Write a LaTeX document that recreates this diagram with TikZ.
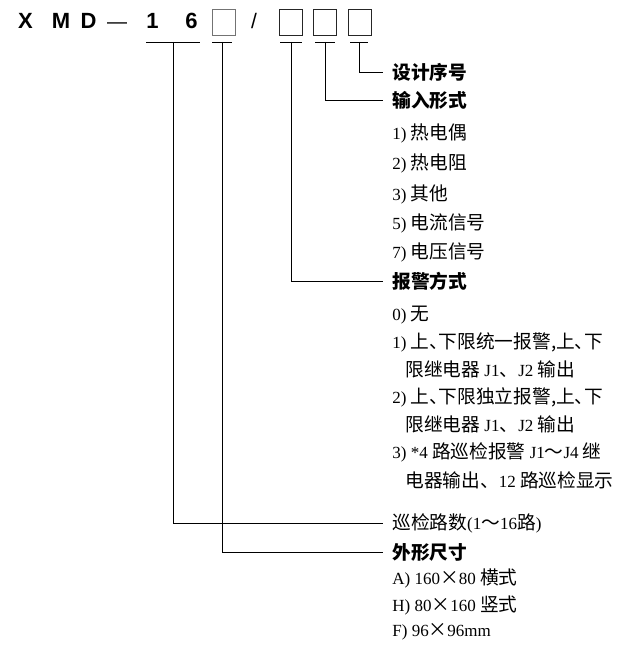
\documentclass[tikz,border=0pt]{standalone}
\usepackage{fontspec}
\setmainfont{Liberation Serif}
\newfontfamily\cjk[RawFeature=+halt,Scale=1.1]{Noto Sans CJK SC}
\newfontfamily\cjkfull[Scale=1.1]{Noto Sans CJK SC}
\newfontfamily\hdr{Liberation Sans}
\newcommand\zh[1]{{\cjk #1}}
\newcommand\zhdun{{\cjkfull 、}}
\usetikzlibrary{positioning}

\begin{document}
\begin{tikzpicture}[
x=1pt, y=-1pt,
line width=0.8pt,
code/.style={
	anchor=base,
	font=\hdr\bfseries\fontsize{22}{24}\selectfont,
	inner sep=0pt
},
slot/.style={
	draw=black!85,
	line width=0.7pt,
	minimum width=23pt,
	minimum height=26pt,
	inner sep=0pt
},
head/.style={
	anchor=west,
	inner xsep=9pt,
	inner ysep=0pt,
	font=\cjk\bfseries\fontsize{17}{20}\selectfont
},
plain/.style={
	anchor=west,
	inner xsep=9pt,
	inner ysep=0pt,
	font=\fontsize{17}{20}\selectfont
},
item/.style={
	anchor=west,
	inner sep=0pt,
	font=\fontsize{17}{20}\selectfont
}
]
\useasboundingbox (0,0) rectangle (623,658);

% Model code
\node [code] (cX) at (25.5,29) {X};
\node [code] (cM) at (61,29) {M};
\node [code] (cD) at (88.5,29) {D};
\node [code, font=\hdr\fontsize{20}{24}\selectfont] (dash) at (117,29) {—};
\node [code] (one) at (152.5,29) {1};
\node [code] (six) at (191.5,29) {6};
\node [slot, draw=black!55] (b1) at (223.5,22) {};
\node [code, font=\hdr\fontsize{21}{24}\selectfont] (slash) at (254,29) {/};
\node [slot] (b2) at (290.5,22) {};
\node [slot] (b3) at (324.5,22) {};
\node [slot] (b4) at (359.5,22) {};

% Underlines
\foreach \a/\b/\n in {146/200/u1, 212/232/u2, 280/302/u3, 315/335/u4, 350/368/u5}{
	\draw (\a,42) -- (\b,42);
	\coordinate (\n) at ({(\a+\b)/2},42);
}

% Fields
\node [head] (design) at (383,72) {设计序号};
\node [head] (input) at (383,100) {输入形式};
\node [item] (in1) at (392,133) {1) \zh{热电偶}};
\node [item] (in2) at (392,163) {2) \zh{热电阻}};
\node [item] (in3) at (392,194) {3) \zh{其他}};
\node [item] (in5) at (392,223) {5) \zh{电流信号}};
\node [item] (in7) at (392,252) {7) \zh{电压信号}};
\node [head] (alarm) at (383,281) {报警方式};
\node [item] (al0) at (392,315) {0) \zh{无}};
\node [item] (al1) at (392,342) {1) \zh{上、下限统一报警,上、下}};
\node [item] (al1b) at (405,369) {\zh{限继电器} J1\zhdun J2 \zh{输出}};
\node [item] (al2) at (392,397) {2) \zh{上、下限独立报警,上、下}};
\node [item] (al2b) at (405,424) {\zh{限继电器} J1\zhdun J2 \zh{输出}};
\node [item] (al3) at (392,452) {3) *4 \zh{路巡检报警} J1\zh{～}J4 \zh{继}};
\node [item] (al3b) at (405,480) {\zh{电器输出}\zhdun 12 \zh{路巡检显示}};
\node [plain] (loops) at (383,523) {\zh{巡检路数}(1\zh{～}16\zh{路})};
\node [head] (size) at (383,552) {外形尺寸};
\node [item] (szA) at (392,578) {A) 160\zh{×}80 \zh{横式}};
\node [item] (szH) at (392,605) {H) 80\zh{×}160 \zh{竖式}};
\node [item] (szF) at (392,632) {F) 96\zh{×}96mm};

% Leaders
\draw (u5) |- (design.west);
\draw (u4) |- (input.west);
\draw (u3) |- (alarm.west);
\draw (u1) |- (loops.west);
\draw (u2) |- (size.west);

\end{tikzpicture}
\end{document}
